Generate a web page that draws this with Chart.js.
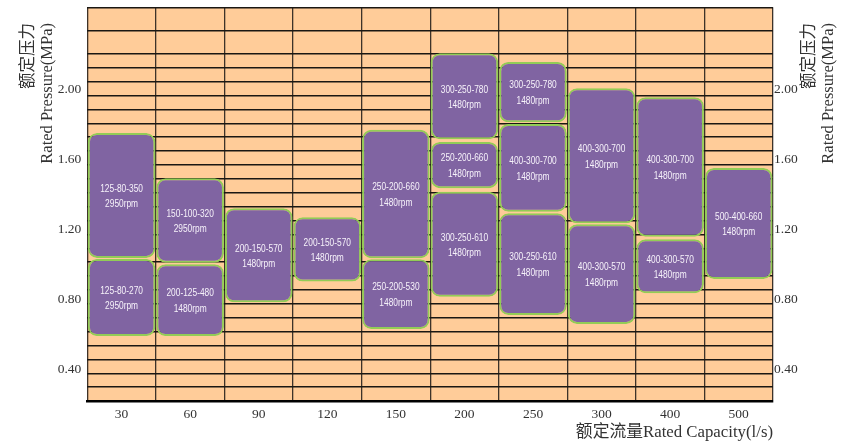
<!DOCTYPE html>
<html>
<head>
<meta charset="utf-8">
<script src="https://cdn.jsdelivr.net/npm/chart.js@4.4.1/dist/chart.umd.min.js"></script>
<style>
  html, body { margin: 0; padding: 0; background: #fff; }
  #pumpChart { display: block; }
</style>
</head>
<body>
<canvas id="pumpChart" width="848" height="447"></canvas>
<script>
// rated capacity (l/s) categories
const capacities = ['30', '60', '90', '120', '150', '200', '250', '300', '400', '500'];

// pressure range [low, high] of each pump box, MPa
const lowerRanges = [[0.593, 1.032], [0.593, 1.002], [0.785, 1.321], [0.903, 1.269], [0.633, 1.030],
  [0.817, 1.415], [0.713, 1.292], [0.662, 1.229], [0.837, 1.144], [0.918, 1.550]];
const middleRanges = [[1.038, 1.749], [1.011, 1.491], null, null, [1.036, 1.767],
  [1.435, 1.698], [1.301, 1.801], [1.235, 2.004], [1.159, 1.953], null];
const upperRanges = [null, null, null, null, null,
  [1.714, 2.203], [1.810, 2.154], null, null, null];

// pump model names and speeds
const lowerModels = ['125-80-270', '200-125-480', '200-150-570', '200-150-570', '250-200-530',
  '300-250-610', '300-250-610', '400-300-570', '400-300-570', '500-400-660'];
const lowerSpeeds = ['2950rpm', '1480rpm', '1480rpm', '1480rpm', '1480rpm',
  '1480rpm', '1480rpm', '1480rpm', '1480rpm', '1480rpm'];
const middleModels = ['125-80-350', '150-100-320', null, null, '250-200-660',
  '250-200-660', '400-300-700', '400-300-700', '400-300-700', null];
const middleSpeeds = ['2950rpm', '2950rpm', null, null, '1480rpm',
  '1480rpm', '1480rpm', '1480rpm', '1480rpm', null];
const upperModels = [null, null, null, null, null, '300-250-780', '300-250-780', null, null, null];
const upperSpeeds = [null, null, null, null, null, '1480rpm', '1480rpm', null, null, null];

// axis
const yMin = 0.223;
const yMax = 2.465;
const yTickValues = [0.4, 0.8, 1.2, 1.6, 2.0];
const gridValues = [0.302, 0.381, 0.460, 0.539, 0.618, 0.697, 0.776, 0.855, 0.935, 1.014,
  1.092, 1.171, 1.251, 1.330, 1.409, 1.488, 1.567, 1.646, 1.725, 1.804, 1.883, 1.962,
  2.041, 2.120, 2.199, 2.332, 2.465];

const serif = "'Liberation Serif', 'Times New Roman', 'Noto Sans CJK SC', serif";
const textGrey = '#333333';

const boxStyle = {
  grouped: false,
  backgroundColor: '#8064A2',
  borderColor: '#92CC56',
  borderWidth: 2,
  borderRadius: 9,
  borderSkipped: false,
  barPercentage: 1,
  categoryPercentage: 0.985
};

// peach plot background
const plotBackground = {
  id: 'plotBackground',
  beforeDraw(chart) {
    const { ctx, chartArea: a } = chart;
    ctx.save();
    ctx.fillStyle = '#FFCC99';
    ctx.fillRect(a.left, a.top, a.right - a.left, a.bottom - a.top);
    ctx.restore();
  }
};

// two text lines in every box
const boxLabels = {
  id: 'boxLabels',
  afterDatasetsDraw(chart) {
    const ctx = chart.ctx;
    chart.data.datasets.forEach((ds, i) => {
      const meta = chart.getDatasetMeta(i);
      meta.data.forEach((bar, j) => {
        if (!ds.models[j]) return;
        const { x, y, base } = bar.getProps(['x', 'y', 'base'], true);
        const mid = (y + base) / 2 + 1;
        ctx.save();
        ctx.fillStyle = '#F6F2FA';
        ctx.font = "11.3px 'Liberation Sans', Arial, sans-serif";
        ctx.textAlign = 'center';
        ctx.textBaseline = 'middle';
        [[ds.models[j], -7.8], [ds.speeds[j], 7.8]].forEach(([txt, dy]) => {
          ctx.save();
          ctx.translate(x, mid + dy);
          ctx.scale(0.74, 1);
          ctx.fillText(txt, 0, 0);
          ctx.restore();
        });
        ctx.restore();
      });
    });
  }
};

// rotated pressure titles on both sides
const pressureTitles = {
  id: 'pressureTitles',
  afterDraw(chart) {
    const ctx = chart.ctx;
    const a = chart.chartArea;
    const endY = 23;
    const spots = [[a.left - 58.5, a.left - 39.5], [a.right + 37, a.right + 56]];
    ctx.save();
    ctx.fillStyle = textGrey;
    ctx.font = '16.5px ' + serif;
    ctx.textAlign = 'right';
    ctx.textBaseline = 'middle';
    spots.forEach(([cn, en]) => {
      [[cn, '额定压力'], [en, 'Rated Pressure(MPa)']].forEach(([px, txt]) => {
        ctx.save();
        ctx.translate(px, endY);
        ctx.rotate(-Math.PI / 2);
        ctx.fillText(txt, 0, 0);
        ctx.restore();
      });
    });
    ctx.restore();
  }
};

const tickFont = { family: serif, size: 13.5 };
const noPad = s => { s.paddingTop = 0; s.paddingBottom = 0; };

new Chart(document.getElementById('pumpChart'), {
  type: 'bar',
  data: {
    labels: capacities,
    datasets: [
      Object.assign({ label: 'lower', data: lowerRanges, models: lowerModels, speeds: lowerSpeeds }, boxStyle),
      Object.assign({ label: 'middle', data: middleRanges, models: middleModels, speeds: middleSpeeds }, boxStyle),
      Object.assign({ label: 'upper', data: upperRanges, models: upperModels, speeds: upperSpeeds }, boxStyle)
    ]
  },
  options: {
    responsive: false,
    animation: false,
    layout: { padding: { top: 7.3, left: 0, right: 0, bottom: 0 } },
    plugins: {
      legend: { display: false },
      tooltip: { enabled: false }
    },
    scales: {
      x: {
        grid: { offset: true, color: '#3d3229', lineWidth: 1.3, drawTicks: false },
        border: { display: true, color: '#000', width: 2.5 },
        ticks: { font: tickFont, color: textGrey, padding: 5 },
        title: {
          display: true,
          text: '额定流量Rated Capacity(l/s)',
          align: 'end',
          color: textGrey,
          font: { family: serif, size: 16.8 },
          padding: { top: 0, bottom: 4 }
        },
        afterFit: s => { s.height = 46; s.paddingLeft = 0; s.paddingRight = 0; }
      },
      y: {
        position: 'left',
        min: yMin,
        max: yMax,
        afterBuildTicks: s => { s.ticks = yTickValues.map(v => ({ value: v })); },
        ticks: { font: tickFont, color: textGrey, padding: 6, callback: v => v.toFixed(2) },
        grid: { display: false, drawTicks: false },
        border: { display: false },
        afterFit: s => { s.width = 87.3; noPad(s); }
      },
      y2: {
        position: 'right',
        min: yMin,
        max: yMax,
        afterBuildTicks: s => { s.ticks = yTickValues.map(v => ({ value: v })); },
        ticks: { font: tickFont, color: textGrey, padding: 1, callback: v => v.toFixed(2) },
        grid: { display: false, drawTicks: false },
        border: { display: false },
        afterFit: s => { s.width = 75; noPad(s); }
      },
      yGrid: {
        position: 'left',
        min: yMin,
        max: yMax,
        afterBuildTicks: s => { s.ticks = gridValues.map(v => ({ value: v })); },
        ticks: { display: false },
        grid: { color: '#1a1713', lineWidth: 1.5, drawTicks: false },
        border: { display: false },
        afterFit: s => { s.width = 0; noPad(s); }
      }
    }
  },
  plugins: [plotBackground, boxLabels, pressureTitles]
});
</script>
</body>
</html>
